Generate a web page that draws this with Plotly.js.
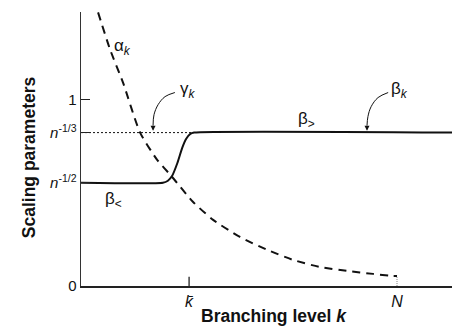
<!DOCTYPE html>
<html>
<head>
<meta charset="utf-8">
<script src="https://cdn.plot.ly/plotly-3.0.1.min.js"></script>
<style>html,body{margin:0;padding:0;background:#fff;}#chart{width:457px;height:329px;}</style>
</head>
<body>
<div id="chart"></div>
<script>
// Branching-level positions
const kbar = 3.42;
const N = 10;
const xMax = 11.74;
// Scaling levels
const nHalf = 0.554;   // n^-1/2
const nThird = 0.823;  // n^-1/3
const yMax = 1.47;

// alpha_k (dashed)
const alphaX = [0.54, 0.92, 1.33, 1.87, 2.41, 2.88, 3.54, 4.18, 5.03, 5.89, 6.71, 7.56, 8.42, 9.24, 9.87, 10.0];
const alphaY = [1.468, 1.269, 1.091, 0.823, 0.677, 0.586, 0.452, 0.355, 0.263, 0.194, 0.140, 0.102, 0.081, 0.065, 0.054, 0.054];

// beta_k (solid)
const betaX = [0, 2.59, 2.75, 2.88, 3.05, 3.20, 3.33, 3.45, 3.58, xMax];
const betaY = [nHalf, nHalf, 0.565, 0.59, 0.66, 0.74, 0.79, 0.815, nThird, nThird];

// gamma_k reference line (dotted)
const gammaX = [0, 3.58];
const gammaY = [nThird, nThird];

// curved arrow paths
const gArrowX = [2.97, 2.66, 2.44, 2.31, 2.28];
const gArrowY = [1.038, 1.016, 0.973, 0.919, 0.86];
const bArrowX = [9.72, 9.40, 9.18, 9.08, 9.05];
const bArrowY = [1.038, 1.011, 0.962, 0.909, 0.86];

const xTickVals = [kbar, N];
const xTickText = ['<i>k\u0304</i>', '<i>N</i>'];
const yTickVals = [0, nHalf, nThird, 1];
const yTickText = ['0', '<i>n</i><sup>-1/2</sup>', '<i>n</i><sup>-1/3</sup>', '1'];

const FAM = 'Liberation Sans, Arial, sans-serif';
const txtFont = {family: FAM, size: 17, color: '#111'};
const titleFont = {family: FAM, size: 17.5, color: '#111'};

const traces = [
  {x: gammaX, y: gammaY, mode: 'lines', line: {color: '#111', width: 1, dash: '2px,2px'}, hoverinfo: 'skip'},
  {x: [N, N], y: [0, alphaY[alphaY.length - 1]], mode: 'lines', line: {color: '#888', width: 1, dash: '1px,1px'}, hoverinfo: 'skip'},
  {x: [kbar, kbar], y: [0, 0.05], mode: 'lines', line: {color: '#111', width: 1.2}, hoverinfo: 'skip'},
  {x: alphaX, y: alphaY, mode: 'lines', line: {color: '#111', width: 2, dash: '8px,6px', shape: 'spline', smoothing: 0.6}, hoverinfo: 'skip'},
  {x: betaX, y: betaY, mode: 'lines', line: {color: '#111', width: 2, shape: 'spline', smoothing: 0.5}, hoverinfo: 'skip'},
  {x: gArrowX, y: gArrowY, mode: 'lines', line: {color: '#111', width: 1, shape: 'spline'}, hoverinfo: 'skip'},
  {x: bArrowX, y: bArrowY, mode: 'lines', line: {color: '#111', width: 1, shape: 'spline'}, hoverinfo: 'skip'}
];

function arrowHead(xs, ys) {
  const n = xs.length;
  return {x: xs[n - 1], y: nThird + 0.01, ax: xs[n - 1], ay: ys[n - 1], axref: 'x', ayref: 'y', xref: 'x', yref: 'y',
    text: '', showarrow: true, arrowhead: 2, arrowsize: 1, arrowwidth: 1, arrowcolor: '#111'};
}

const layout = {
  width: 457, height: 329,
  margin: {l: 81, r: 5, t: 12, b: 43},
  paper_bgcolor: '#fff', plot_bgcolor: '#fff',
  showlegend: false,
  font: {family: FAM, color: '#111'},
  xaxis: {
    range: [0, xMax], showgrid: false, zeroline: false,
    showline: true, linecolor: '#222', linewidth: 1.5,
    tickmode: 'array', tickvals: xTickVals, ticktext: xTickText, ticks: '',
    tickfont: {size: 16, family: FAM, color: '#111'}
  },
  yaxis: {
    range: [0, yMax], showgrid: false, zeroline: false,
    showline: true, linecolor: '#333', linewidth: 1.5,
    tickmode: 'array', tickvals: yTickVals, ticktext: yTickText,
    ticks: 'inside', ticklen: 9, tickcolor: '#222', tickwidth: 1,
    tickfont: {size: 15, family: FAM, color: '#111'}
  },
  annotations: [
    {x: 1.30, y: 1.28, text: '\u03b1<sub><i>k</i></sub>', showarrow: false, font: txtFont},
    {x: 3.39, y: 1.054, text: '\u03b3<sub><i>k</i></sub>', showarrow: false, font: txtFont},
    {x: 10.09, y: 1.054, text: '\u03b2<sub><i>k</i></sub>', showarrow: false, font: txtFont},
    {x: 7.12, y: 0.892, text: '\u03b2<sub>&gt;</sub>', showarrow: false, font: txtFont},
    {x: 1.04, y: 0.462, text: '\u03b2<sub>&lt;</sub>', showarrow: false, font: txtFont},
    arrowHead(gArrowX, gArrowY),
    arrowHead(bArrowX, bArrowY),
    {xref: 'paper', yref: 'paper', x: 0.52, y: 0, yshift: -30, xanchor: 'center', yanchor: 'middle',
     text: '<b>Branching level <i>k</i></b>', showarrow: false, font: titleFont},
    {xref: 'paper', yref: 'paper', x: 0, y: 0.47, xshift: -52, xanchor: 'center', yanchor: 'middle', textangle: -90,
     text: '<b>Scaling parameters</b>', showarrow: false, font: titleFont}
  ]
};

Plotly.newPlot('chart', traces, layout, {staticPlot: true, displayModeBar: false});
</script>
</body>
</html>
